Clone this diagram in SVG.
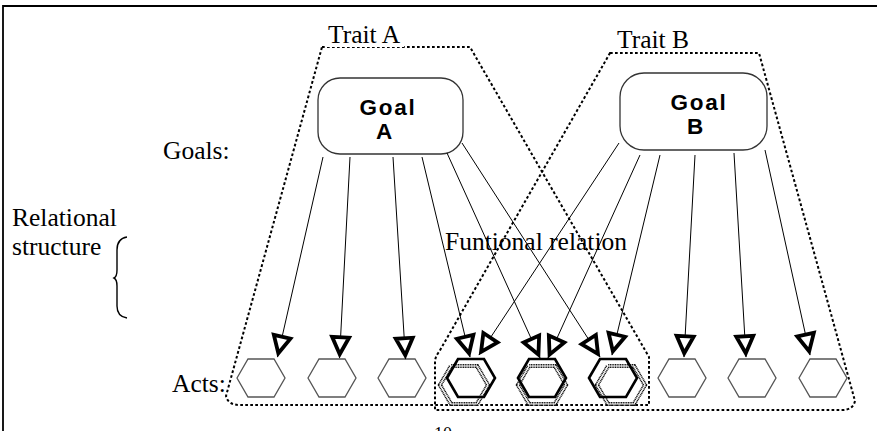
<svg xmlns="http://www.w3.org/2000/svg" width="877" height="431" viewBox="0 0 877 431">
  <style>
    .serif { font-family: "Liberation Serif", "Times New Roman", serif; font-size: 25.5px; fill: #000; }
    .goal { font-family: "Liberation Sans", Arial, sans-serif; font-size: 22.5px; font-weight: bold; letter-spacing: 1.8px; fill: #000; text-anchor: middle; }
    .box { fill: #fff; stroke: #333; stroke-width: 1.3; }
    .trait { fill: none; stroke: #000; stroke-width: 2; stroke-dasharray: 2.7 2.3; }
    .link { fill: none; stroke: #000; stroke-width: 1; marker-end: url(#ah); }
    .act { fill: #fff; stroke: #555; stroke-width: 1.3; }
    .act-main { fill: none; stroke: #000; stroke-width: 2.6; }
    .act-shadow { fill: none; stroke: #111; stroke-width: 4.2; stroke-dasharray: 1.1 0.6; }
    .act-shadow-core { fill: none; stroke: #fff; stroke-width: 1.2; }
  </style>
  <defs>
    <polygon id="hex" points="-24,0 -13,-19 13,-19 24,0 13,19 -13,19"/>
    <marker id="ah" viewBox="-24 -15 30 30" refX="3.8" refY="0" markerWidth="30" markerHeight="30" markerUnits="userSpaceOnUse" orient="auto">
      <path d="M0,0 L-17,-8.5 L-17,8.5 Z" fill="#fff" stroke="#000" stroke-width="3.8" stroke-linejoin="miter"/>
    </marker>
  </defs>

  <!-- page frame -->
  <path d="M3,431 V6 H877" fill="none" stroke="#000" stroke-width="1.8"/>

  <!-- side labels -->
  <text class="serif" x="163" y="159">Goals:</text>
  <text class="serif" x="12" y="226">Relational</text>
  <text class="serif" x="12" y="255">structure</text>
  <path d="M127,237 C120,238 117,243 117,250 V270 C117,275 116,277 114,278 C116,279 117,281 117,286 V306 C117,313 120,317 127,318" fill="none" stroke="#000" stroke-width="1.4"/>
  <text class="serif" x="172" y="392">Acts:</text>

  <!-- trait groupings -->
  <g id="trait-a">
    <path class="trait" d="M322,47 H470 L649,357 V405 H240 Q228,405 226,396 Z"/>
    <rect x="326" y="26" width="78" height="21" fill="#fff"/>
    <text class="serif" x="328" y="43">Trait A</text>
  </g>
  <g id="trait-b">
    <path class="trait" d="M610,53 H759 L855,401 Q853,410 842,410 H435 V362 Q435,357 439,352 Z"/>
    <text class="serif" x="617" y="48">Trait B</text>
  </g>

  <text class="serif" x="445" y="250">Funtional relation</text>

  <!-- goals -->
  <g id="goal-a">
    <rect class="box" x="318" y="78" width="145" height="76" rx="22"/>
    <text class="goal"><tspan x="388" y="115">Goal</tspan><tspan x="385" y="139">A</tspan></text>
  </g>
  <g id="goal-b">
    <rect class="box" x="620" y="73" width="147" height="77" rx="24"/>
    <text class="goal"><tspan x="699" y="110">Goal</tspan><tspan x="696" y="134">B</tspan></text>
  </g>

  <!-- acts -->
  <g id="act-1"><use href="#hex" class="act" x="261" y="378"/></g>
  <g id="act-2"><use href="#hex" class="act" x="332" y="378"/></g>
  <g id="act-3"><use href="#hex" class="act" x="402" y="378"/></g>
  <g id="act-4">
    <use href="#hex" class="act-shadow" x="464" y="385"/>
    <use href="#hex" class="act-shadow-core" x="464" y="385"/>
    <use href="#hex" class="act-main" x="471" y="378"/>
  </g>
  <g id="act-5">
    <use href="#hex" class="act-shadow" x="542" y="385"/>
    <use href="#hex" class="act-shadow-core" x="542" y="385"/>
    <use href="#hex" class="act-main" x="542" y="378"/>
  </g>
  <g id="act-6">
    <use href="#hex" class="act-shadow" x="621" y="385"/>
    <use href="#hex" class="act-shadow-core" x="621" y="385"/>
    <use href="#hex" class="act-main" x="613" y="378"/>
  </g>
  <g id="act-7"><use href="#hex" class="act" x="682" y="378"/></g>
  <g id="act-8"><use href="#hex" class="act" x="752" y="378"/></g>
  <g id="act-9"><use href="#hex" class="act" x="823" y="378"/></g>

  <!-- goal-to-act links -->
  <g id="links">
    <line class="link" x1="323" y1="157" x2="277.5" y2="357"/>
    <line class="link" x1="350" y1="157" x2="339.5" y2="358"/>
    <line class="link" x1="393" y1="157" x2="405.5" y2="359"/>
    <line class="link" x1="422" y1="157" x2="470" y2="357"/>
    <line class="link" x1="447" y1="153" x2="540" y2="358"/>
    <line class="link" x1="462" y1="143" x2="600" y2="357"/>
    <line class="link" x1="619" y1="143" x2="479" y2="355"/>
    <line class="link" x1="640" y1="155" x2="548" y2="358"/>
    <line class="link" x1="660" y1="155" x2="612" y2="355"/>
    <line class="link" x1="695" y1="155" x2="684" y2="357"/>
    <line class="link" x1="734" y1="153" x2="746" y2="357"/>
    <line class="link" x1="765" y1="150" x2="810" y2="355"/>
  </g>

  <!-- page number -->
  <text x="434" y="440" font-family="'Liberation Serif', serif" font-size="18">10</text>
</svg>
